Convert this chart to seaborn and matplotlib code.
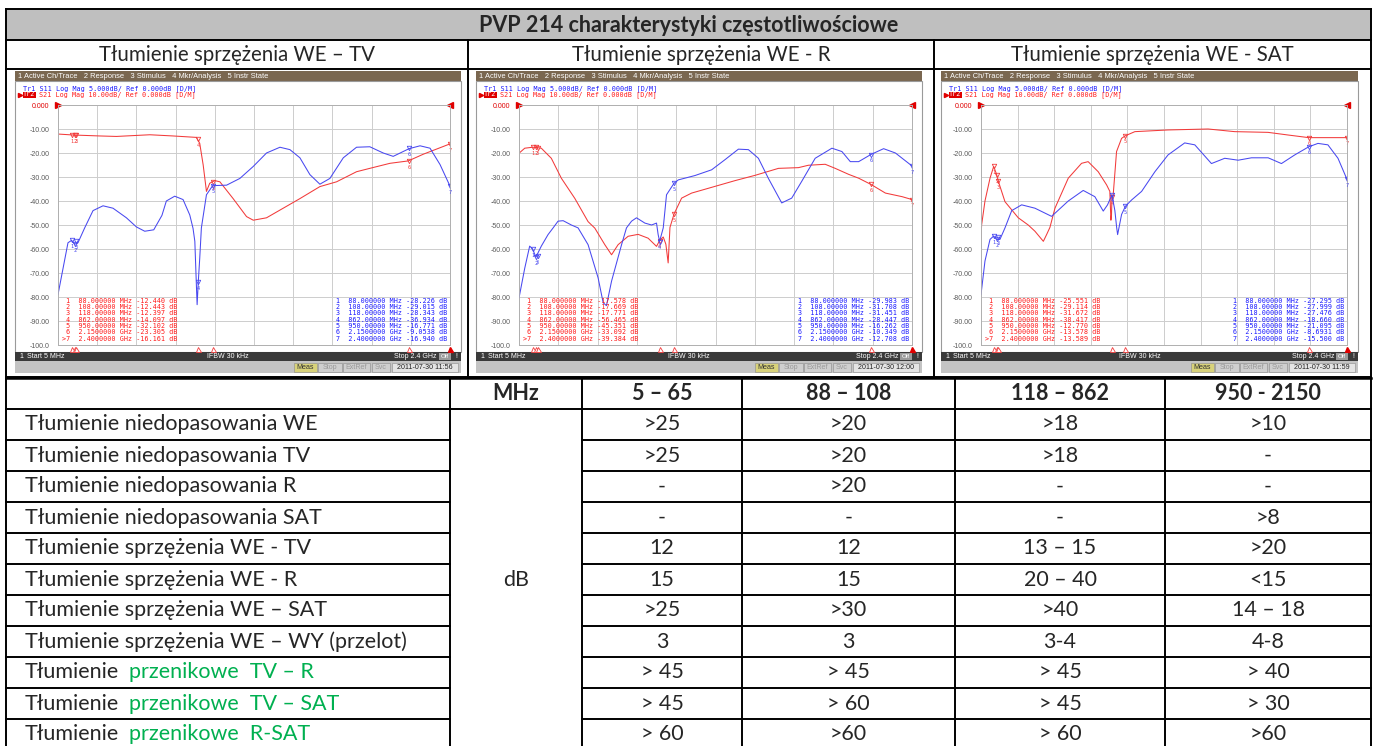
import matplotlib
matplotlib.use("Agg")
import matplotlib.pyplot as plt
import matplotlib.transforms as mtransforms
import seaborn as sns
from matplotlib.patches import Rectangle

# ---------------- data ----------------
# panel 1: WE - TV
f1_s21 = [5, 97, 260, 362, 566, 708, 851, 871, 892, 912, 932, 963, 994, 1075, 1157, 1198,
          1279, 1381, 1483, 1605, 1707, 1829, 1910, 2033, 2145, 2237, 2400]
v1_s21 = [-12.1, -12.5, -12.9, -13.1, -12.4, -12.9, -13.5, -16, -25, -36, -32.6, -31.5, -32,
          -39, -46.5, -48, -47, -43, -39, -34, -32, -27.8, -26.4, -24.3, -23.3, -20.5, -16.2]
f1_s11 = [5, 36, 66, 88, 108, 127, 168, 219, 280, 341, 423, 484, 535, 590, 640, 667, 718, 769,
          810, 830, 841, 851, 855, 862, 871, 881, 912, 950, 1035, 1116, 1198, 1279, 1361, 1422,
          1483, 1544, 1605, 1666, 1748, 1829, 1910, 1992, 2053, 2150, 2217, 2278, 2339, 2400]
v1_s11 = [-39.5, -34, -28.7, -28.2, -29.0, -28.7, -25.6, -22, -21, -21.5, -23.5, -25.4, -26.3,
          -26, -23, -20, -19, -19.7, -22.9, -25.7, -28.4, -38, -41.6, -36.9, -31.9, -25.6, -18.7,
          -16.8, -16.7, -15.3, -12.8, -10, -8.8, -9.3, -11, -14.5, -16.5, -15.3, -11, -8.8, -8.7,
          -10, -10.7, -9.1, -8.5, -9, -12.4, -16.9]

# panel 2: WE - R
f2_s21 = [5, 40, 88, 108, 118, 141, 202, 263, 345, 426, 467, 528, 569, 609, 670, 731, 792, 843,
          862, 884, 900, 914, 925, 950, 996, 1057, 1159, 1322, 1444, 1586, 1708, 1769, 1871, 1932,
          2014, 2075, 2150, 2238, 2340, 2400]
v2_s21 = [-20.1, -18, -17.6, -17.7, -17.8, -18, -22.2, -30.5, -38.9, -48.6, -51.3, -58.2, -62.4,
          -58.2, -54.7, -53.9, -55.5, -58.9, -56.5, -55, -58, -65.8, -51, -45.4, -38.8, -36.7,
          -34.7, -31.5, -29.3, -26.4, -26.1, -25.1, -24.7, -26.4, -28.9, -30.5, -33.1, -36.7,
          -38.2, -39.4]
f2_s11 = [5, 40, 70, 88, 108, 141, 182, 213, 243, 274, 324, 365, 426, 487, 518, 538, 569, 630,
          660, 691, 721, 772, 813, 843, 853, 862, 884, 904, 950, 976, 1077, 1179, 1260, 1342, 1403,
          1464, 1525, 1606, 1667, 1728, 1810, 1912, 1973, 2024, 2075, 2150, 2227, 2299, 2400]
v2_s11 = [-40.2, -34, -29.4, -30, -31.7, -29.4, -27, -25.6, -24.2, -24.1, -25, -25.6, -29.1, -36,
          -41.2, -41.8, -36.7, -29.1, -25.6, -24.2, -23.5, -24.6, -25, -24.6, -27, -28.4, -25.6,
          -18.7, -16.3, -15.6, -14.7, -13.5, -11.4, -9.2, -9.3, -11.1, -15.3, -20.4, -19.4, -15.9,
          -11.1, -9, -9.7, -11.8, -11.8, -10.3, -9.1, -10, -12.7]

# panel 3: WE - SAT
f3_s21 = [5, 9, 31, 64, 88, 108, 118, 162, 249, 314, 358, 413, 435, 456, 489, 576, 663, 706, 772,
          827, 848, 855, 859, 862, 870, 892, 925, 950, 1012, 1229, 1491, 1665, 1883, 2014, 2150,
          2210, 2400]
v3_s21 = [-56, -50, -40, -30.5, -25.6, -29.1, -31.7, -40.3, -47, -50, -52.6, -56.8, -53.9, -51,
          -43, -30.5, -24.3, -23.6, -27.8, -33.3, -36, -48, -45.7, -38.4, -37.5, -19.4, -13.9,
          -12.8, -11.1, -10.4, -10, -11.1, -11.4, -12.5, -13.6, -13.6, -13.6]
f3_s11 = [5, 31, 64, 88, 108, 129, 162, 206, 271, 358, 467, 576, 674, 750, 805, 833, 862, 881,
          893, 899, 925, 950, 990, 1056, 1143, 1229, 1338, 1404, 1513, 1600, 1688, 1775, 1884,
          1971, 2058, 2150, 2210, 2275, 2341, 2400]
v3_s11 = [-39.5, -32.5, -28, -27.3, -28, -28, -25.6, -22, -20.8, -21.5, -23.2, -20, -17.8, -19.1,
          -22.1, -20.8, -18.7, -22, -25.6, -27, -22.8, -21.1, -19.8, -18, -13.9, -10.4, -7.9, -8.3,
          -12.2, -11.1, -11.5, -11, -11, -12.2, -10.4, -8.7, -8, -8.3, -11.1, -15.5]

# marker readouts
mkr_freq = [88, 108, 118, 862, 950, 2150, 2400]
mkr_freq_txt = ["88.000000 MHz", "108.00000 MHz", "118.00000 MHz", "862.00000 MHz",
                "950.00000 MHz", "2.1500000 GHz", "2.4000000 GHz"]
m1_s21 = ["-12.440", "-12.443", "-12.397", "-14.097", "-32.102", "-23.305", "-16.161"]
m1_s11 = ["-28.226", "-29.015", "-28.343", "-36.934", "-16.771", "-9.0538", "-16.940"]
m2_s21 = ["-17.578", "-17.669", "-17.771", "-56.465", "-45.351", "-33.092", "-39.384"]
m2_s11 = ["-29.983", "-31.708", "-31.451", "-28.447", "-16.262", "-10.349", "-12.708"]
m3_s21 = ["-25.551", "-29.114", "-31.672", "-38.417", "-12.770", "-13.578", "-13.589"]
m3_s11 = ["-27.295", "-27.999", "-27.476", "-18.660", "-21.095", "-8.6931", "-15.500"]

panel_titles = ["Tłumienie sprzężenia WE – TV", "Tłumienie sprzężenia WE - R",
                "Tłumienie sprzężenia WE - SAT"]
panel_times = ["2011-07-30 11:56", "2011-07-30 12:00", "2011-07-30 11:59"]
y_ticks = [0, -10, -20, -30, -40, -50, -60, -70, -80, -90, -100]
y_tick_labels = ["0.000", "-10.00", "-20.00", "-30.00", "-40.00", "-50.00", "-60.00",
                 "-70.00", "-80.00", "-90.00", "-100.0"]

# spec table
title = "PVP 214 charakterystyki częstotliwościowe"
band_headers = ["5 – 65", "88 – 108", "118 – 862", "950 - 2150"]
row_labels = [("Tłumienie niedopasowania WE", ""), ("Tłumienie niedopasowania TV", ""),
              ("Tłumienie niedopasowania R", ""), ("Tłumienie niedopasowania SAT", ""),
              ("Tłumienie sprzężenia WE - TV", ""), ("Tłumienie sprzężenia WE - R", ""),
              ("Tłumienie sprzężenia WE – SAT", ""),
              ("Tłumienie sprzężenia WE – WY (przelot)", ""),
              ("Tłumienie", "przenikowe  TV – R"), ("Tłumienie", "przenikowe  TV – SAT"),
              ("Tłumienie", "przenikowe  R-SAT")]
row_values = [[">25", ">20", ">18", ">10"],
              [">25", ">20", ">18", "-"],
              ["-", ">20", "-", "-"],
              ["-", "-", "-", ">8"],
              ["12", "12", "13 – 15", ">20"],
              ["15", "15", "20 – 40", "<15"],
              [">25", ">30", ">40", "14 – 18"],
              ["3", "3", "3-4", "4-8"],
              ["> 45", "> 45", "> 45", "> 40"],
              ["> 45", "> 60", "> 45", "> 30"],
              ["> 60", ">60", "> 60", ">60"]]

# ---------------- layout (pixels) ----------------
W, H = 1376, 746
RED, BLUE = "#f23a3a", "#4848f0"
TXT_RED, TXT_BLUE = "#ff1a1a", "#1a1aff"
BROWN = "#7a6750"
MONO = "DejaVu Sans Mono"
SANS = "Liberation Sans"
FS = 15.5

sns.set_theme(style="white")
plt.rcParams['font.family'] = ['Lato', 'DejaVu Sans']

fig = plt.figure(figsize=(W / 100, H / 100), dpi=100)


def px_rect(x0, y0, x1, y1):
    return [x0 / W, 1 - y1 / H, (x1 - x0) / W, (y1 - y0) / H]


def overlay(z):
    a = fig.add_axes([0, 0, 1, 1], zorder=z)
    a.set_xlim(0, W)
    a.set_ylim(H, 0)
    a.axis('off')
    return a


bg = overlay(0)
fg = overlay(10)


def hline(y, x0, x1, lw=1.4):
    fg.plot([x0, x1], [y, y], color="black", lw=lw, solid_capstyle="projecting")


def vline(x, y0, y1, lw=1.4):
    fg.plot([x, x], [y0, y1], color="black", lw=lw, solid_capstyle="projecting")


# ---------------- top table frame ----------------
L, R = 6, 1371
bg.add_patch(Rectangle((L, 9), R - L, 31, color="#bfbfbf", lw=0))
fg.text((L + R) / 2, 25, title, ha="center", va="center", fontsize=FS, fontweight="bold")
for y in [9, 40, 69, 377]:
    hline(y, L, R)
vline(L, 9, H + 5)
vline(R, 9, H + 5)
cells = [(L, 468), (468, 934), (934, R)]
vline(468, 40, 377)
vline(934, 40, 377)
for (c0, c1), t in zip(cells, panel_titles):
    fg.text((c0 + c1) / 2, 55, t, ha="center", va="center", fontsize=14.8)

# ---------------- analyzer panels ----------------
panels = [
    dict(x0=15, x1=461, ax0=58, ax1=450, s21=(f1_s21, v1_s21), s11=(f1_s11, v1_s11),
         m21=m1_s21, m11=m1_s11, time=panel_times[0]),
    dict(x0=476, x1=922, ax0=519, ax1=912, s21=(f2_s21, v2_s21), s11=(f2_s11, v2_s11),
         m21=m2_s21, m11=m2_s11, time=panel_times[1]),
    dict(x0=941, x1=1358, ax0=981, ax1=1347, s21=(f3_s21, v3_s21), s11=(f3_s11, v3_s11),
         m21=m3_s21, m11=m3_s11, time=panel_times[2]),
]
AY0, AY1 = 105, 345
MFS = 4.9

for p in panels:
    x0, x1 = p["x0"], p["x1"]
    # screen chrome
    bg.add_patch(Rectangle((x0, 71), x1 - x0, 10, color=BROWN, lw=0))
    bg.add_patch(Rectangle((x0, 81), x1 - x0, 271, facecolor="white", edgecolor="#9a9a9a", lw=0.8))
    bg.add_patch(Rectangle((x0, 352), x1 - x0, 9, color="#3a3a3a", lw=0))
    bg.add_patch(Rectangle((x0, 361), x1 - x0, 12, color="#c4c4c4", lw=0))
    fg.text(x0 + 3, 76.5, "1 Active Ch/Trace   2 Response   3 Stimulus   4 Mkr/Analysis   5 Instr State",
            color="white", fontsize=5.4, family=SANS, va="center")
    # trace header
    fg.text(x0 + 8, 88.5, "Tr1 S11 Log Mag 5.000dB/ Ref 0.000dB [D/M]", color=TXT_BLUE,
            fontsize=MFS, family=MONO, va="center")
    cw = 0.602 * MFS * 100 / 72
    fg.text(x0 + 8 + 4 * cw, 94.5, "S21 Log Mag 10.00dB/ Ref 0.000dB [D/M]", color=TXT_RED,
            fontsize=MFS, family=MONO, va="center")
    fg.add_patch(Rectangle((x0 + 7.5, 91.5), 3 * cw + 1, 6, color="#e00000", lw=0, zorder=3))
    fg.text(x0 + 8, 94.5, "Tr2", color="white", fontsize=MFS, family=MONO, va="center", zorder=4)
    fg.plot([x0 + 5], [94.5], marker=">", ms=3, color="#e00000", ls="none")
    # status bars
    fg.text(x0 + 4, 356.5, "1", color="white", fontsize=5, family=SANS, va="center")
    fg.text(x0 + 12, 356.5, "Start 5 MHz", color="white", fontsize=5, family=SANS, va="center")
    fg.text((x0 + x1) / 2 - 10, 356.5, "IFBW 30 kHz", color="white", fontsize=5, family=SANS,
            va="center", ha="center")
    fg.text(x1 - 24, 356.5, "Stop 2.4 GHz", color="white", fontsize=5, family=SANS, va="center",
            ha="right")
    fg.add_patch(Rectangle((x1 - 22, 353), 12, 7, color="#9a9a9a", lw=0))
    fg.text(x1 - 16, 356.5, "Off", color="white", fontsize=4.5, family=SANS, va="center", ha="center")
    fg.text(x1 - 5, 356.5, "!", color="white", fontsize=5, family=SANS, va="center", ha="center")
    boxes = [(x1 - 167, x1 - 144, "Meas", "#d8d27a", "#333333"),
             (x1 - 143, x1 - 119, "Stop", "#cfcfcf", "#9a9a9a"),
             (x1 - 118, x1 - 91, "ExtRef", "#cfcfcf", "#9a9a9a"),
             (x1 - 89, x1 - 71, "Svc", "#cfcfcf", "#9a9a9a"),
             (x1 - 69, x1 - 3, p["time"], "#e4e4e4", "#222222")]
    for b0, b1, t, fc, tc in boxes:
        fg.add_patch(Rectangle((b0, 362.5), b1 - b0, 9.5, facecolor=fc, edgecolor="#8a8a8a", lw=0.4))
        fg.text((b0 + b1) / 2, 367.5, t, color=tc, fontsize=5.1, family=SANS, ha="center", va="center")

    # measurement axes
    ax = fig.add_axes(px_rect(p["ax0"], AY0, p["ax1"], AY1), zorder=5)
    ax.patch.set_alpha(0)
    ax2 = ax.twinx()
    ax2.patch.set_alpha(0)
    sns.lineplot(x=p["s21"][0], y=p["s21"][1], ax=ax, color=RED, lw=0.75, sort=False)
    sns.lineplot(x=p["s11"][0], y=p["s11"][1], ax=ax2, color=BLUE, lw=0.75, sort=False)
    ax.set_xlim(5, 2400)
    ax.set_ylim(-100, 0)
    ax2.set_ylim(-50, 0)
    ax.set_xticks([5 + 239.5 * k for k in range(11)])
    ax.set_xticklabels([])
    ax.set_yticks(y_ticks)
    ax.set_yticklabels(y_tick_labels, fontsize=5, family=SANS, color="#5a5a5a")
    ax.get_yticklabels()[0].set_color("#e00000")
    ax.tick_params(axis="both", length=0, pad=6)
    ax2.set_yticks([])
    ax.grid(True, color="#cdcdcd", lw=0.7)
    ax.set_xlabel("")
    ax.set_ylabel("")
    ax2.set_ylabel("")
    for a in (ax, ax2):
        for s in a.spines.values():
            s.set_color("#b0b0b0")
            s.set_linewidth(0.6)

    # marker symbols on traces
    v21 = [float(v) for v in p["m21"]]
    v11 = [float(v) for v in p["m11"]]
    ax.plot(mkr_freq, v21, ls="none", marker="v", ms=3.2, mfc="none", mec=RED, mew=0.6)
    ax2.plot(mkr_freq, v11, ls="none", marker="v", ms=3.2, mfc="none", mec=BLUE, mew=0.6)
    for i, (f, a, b) in enumerate(zip(mkr_freq, v21, v11)):
        ax.annotate(str(i + 1), (f, a), xytext=(0, -4.5), textcoords="offset points",
                    ha="center", va="center", fontsize=3.8, color=RED, family=MONO)
        ax2.annotate(str(i + 1), (f, b), xytext=(0, -4.5), textcoords="offset points",
                     ha="center", va="center", fontsize=3.8, color=BLUE, family=MONO)

    # marker position triangles below the graticule
    trans = mtransforms.blended_transform_factory(ax.transData, ax.transAxes)
    ax.plot(mkr_freq[:-1], [-0.018] * 6, ls="none", marker="^", ms=3.6, mfc="white", mec=RED,
            mew=0.6, transform=trans, clip_on=False)
    ax.plot([mkr_freq[-1]], [-0.018], ls="none", marker="^", ms=3.6, color="#e00000",
            transform=trans, clip_on=False)
    ax.plot([5], [0], marker=">", ms=4, color="#e00000", clip_on=False)
    ax.plot([2400], [0], marker="<", ms=4, color="#e00000", clip_on=False)

    # marker readout tables
    for i, (ft, a, b) in enumerate(zip(mkr_freq_txt, p["m21"], p["m11"])):
        y = 300.8 + i * 6.3
        lead = ">" if i == 6 else " "
        fg.text(p["ax0"] + 4, y, f"{lead}{i + 1}  {ft} {a:>7} dB", color=TXT_RED, fontsize=MFS,
                family=MONO, va="center")
        fg.text(p["ax1"] - 3, y, f"{i + 1}  {ft} {b:>7} dB", color=TXT_BLUE, fontsize=MFS,
                family=MONO, va="center", ha="right")

# ---------------- spec table ----------------
col_edges = [L, 450, 582, 742, 955, 1165, R]
TOP, HDR, ROW = 378, 409, 31
hline(TOP, L, R, lw=1.8)
hline(HDR, L, R)
for c in col_edges[1:-1]:
    vline(c, TOP, H + 5)
fg.text((col_edges[1] + col_edges[2]) / 2, (TOP + HDR) / 2, "MHz", ha="center", va="center",
        fontsize=FS, fontweight="bold")
for k, t in enumerate(band_headers):
    fg.text((col_edges[k + 2] + col_edges[k + 3]) / 2, (TOP + HDR) / 2, t, ha="center",
            va="center", fontsize=FS, fontweight="bold")

n_rows = len(row_labels)
for r in range(n_rows):
    y0 = HDR + r * ROW
    yc = y0 + ROW / 2
    if r > 0:
        hline(y0, L, col_edges[1])
        hline(y0, col_edges[2], R)
    black, green = row_labels[r]
    t = fg.text(L + 19, yc, black, ha="left", va="center", fontsize=FS)
    if green:
        fg.annotate(green, xy=(1, 0.5), xycoords=t, xytext=(7, 0), textcoords="offset points",
                    ha="left", va="center", fontsize=FS, color="#00b050")
    for k, v in enumerate(row_values[r]):
        fg.text((col_edges[k + 2] + col_edges[k + 3]) / 2, yc, v, ha="center", va="center",
                fontsize=FS)
fg.text((col_edges[1] + col_edges[2]) / 2, HDR + n_rows * ROW / 2, "dB", ha="center",
        va="center", fontsize=FS)

fig.savefig("out.png", dpi=100)
